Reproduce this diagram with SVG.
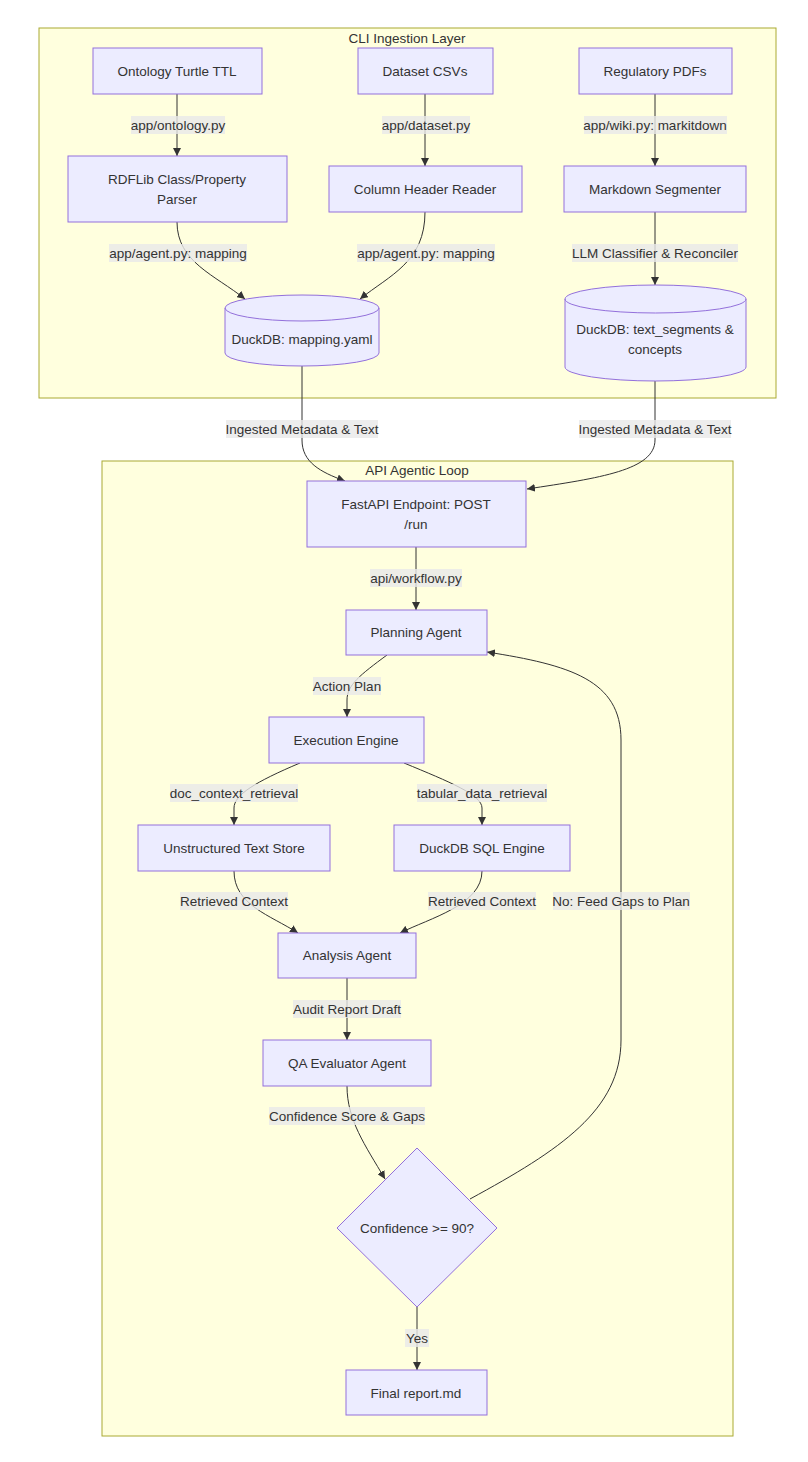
<svg xmlns="http://www.w3.org/2000/svg" width="808" height="1462" viewBox="0 0 808 1462">
<defs>
<style>
.cluster{fill:#ffffde;stroke:#aaaa33;stroke-width:1}
.node{fill:#ECECFF;stroke:#9370DB;stroke-width:1}
.edge{fill:none;stroke:#333;stroke-width:1}
.lbl{fill:#e8e8e8;fill-opacity:0.8}
text{font-family:"Liberation Sans",Arial,sans-serif;font-size:13.5px;fill:#333;text-anchor:middle;dominant-baseline:central}
</style>
<marker id="arrow" viewBox="0 0 10 10" refX="10" refY="5" markerWidth="8" markerHeight="8" markerUnits="userSpaceOnUse" orient="auto">
<path d="M0,0 L10,5 L0,10 z" fill="#333"/>
</marker>
</defs>
<rect width="808" height="1462" fill="#ffffff"/>
<g id="cluster-cli">
<rect class="cluster" x="39" y="28" width="737" height="370"/>
<text x="407" y="38">CLI Ingestion Layer</text>
</g>
<g id="cluster-api">
<rect class="cluster" x="102" y="461" width="631" height="975"/>
<text x="417" y="470">API Agentic Loop</text>
</g>
<g id="connectors">
<path class="edge" marker-end="url(#arrow)" d="M177,94 L177,156"/>
<path class="edge" marker-end="url(#arrow)" d="M425,94 L425,166"/>
<path class="edge" marker-end="url(#arrow)" d="M655,94 L655,166"/>
<path class="edge" marker-end="url(#arrow)" d="M177,222 C177,262 215,275 245,299"/>
<path class="edge" marker-end="url(#arrow)" d="M425,212 C425,262 390,275 360,299"/>
<path class="edge" marker-end="url(#arrow)" d="M655,212 L655,285"/>
<path class="edge" marker-end="url(#arrow)" d="M302,366 L302,440 C302,462 320,472 345,481"/>
<path class="edge" marker-end="url(#arrow)" d="M655,381 L655,440 C655,470 600,478 527,489"/>
<path class="edge" marker-end="url(#arrow)" d="M416,547 L416,610"/>
<path class="edge" marker-end="url(#arrow)" d="M387,655 C360,675 347,685 347,700 L347,717"/>
<path class="edge" marker-end="url(#arrow)" d="M300,763 C255,782 234,795 234,808 L234,825"/>
<path class="edge" marker-end="url(#arrow)" d="M404,763 C450,782 482,795 482,808 L482,825"/>
<path class="edge" marker-end="url(#arrow)" d="M234,871 C234,905 270,915 298,933"/>
<path class="edge" marker-end="url(#arrow)" d="M482,871 C482,905 430,918 400,933"/>
<path class="edge" marker-end="url(#arrow)" d="M347,978 L347,1040"/>
<path class="edge" marker-end="url(#arrow)" d="M347,1086 C347,1120 365,1145 385,1179"/>
<path class="edge" marker-end="url(#arrow)" d="M470,1199 C560,1150 621,1110 621,1040 L621,740 C621,680 570,665 487,652"/>
<path class="edge" marker-end="url(#arrow)" d="M417,1307 L417,1370"/>
<g id="edge-labels">
<rect class="lbl" x="131" y="116" width="94" height="18"/><text x="178" y="125">app/ontology.py</text>
<rect class="lbl" x="382" y="116" width="88" height="18"/><text x="426" y="125">app/dataset.py</text>
<rect class="lbl" x="584" y="116" width="143" height="18"/><text x="655" y="125">app/wiki.py: markitdown</text>
<rect class="lbl" x="109" y="244" width="138" height="18"/><text x="178" y="253">app/agent.py: mapping</text>
<rect class="lbl" x="357" y="244" width="138" height="18"/><text x="426" y="253">app/agent.py: mapping</text>
<rect class="lbl" x="572" y="244" width="166" height="18"/><text x="655" y="253">LLM Classifier &amp; Reconciler</text>
<rect class="lbl" x="226" y="420" width="152" height="18"/><text x="302" y="429">Ingested Metadata &amp; Text</text>
<rect class="lbl" x="579" y="420" width="152" height="18"/><text x="655" y="429">Ingested Metadata &amp; Text</text>
<rect class="lbl" x="370" y="569" width="92" height="18"/><text x="416" y="578">api/workflow.py</text>
<rect class="lbl" x="313" y="677" width="68" height="18"/><text x="347" y="686">Action Plan</text>
<rect class="lbl" x="170" y="784" width="128" height="18"/><text x="234" y="793">doc_context_retrieval</text>
<rect class="lbl" x="417" y="784" width="130" height="18"/><text x="482" y="793">tabular_data_retrieval</text>
<rect class="lbl" x="180" y="892" width="108" height="18"/><text x="234" y="901">Retrieved Context</text>
<rect class="lbl" x="428" y="892" width="108" height="18"/><text x="482" y="901">Retrieved Context</text>
<rect class="lbl" x="553" y="892" width="137" height="18"/><text x="621" y="901">No: Feed Gaps to Plan</text>
<rect class="lbl" x="293" y="1000" width="108" height="18"/><text x="347" y="1009">Audit Report Draft</text>
<rect class="lbl" x="269" y="1107" width="156" height="18"/><text x="347" y="1116">Confidence Score &amp; Gaps</text>
<rect class="lbl" x="405" y="1329" width="24" height="18"/><text x="417" y="1338">Yes</text>
</g>
</g>
<g id="n-ontology"><rect class="node" x="93" y="48" width="169" height="46"/><text x="177" y="71">Ontology Turtle TTL</text></g>
<g id="n-dataset"><rect class="node" x="358" y="48" width="135" height="46"/><text x="425" y="71">Dataset CSVs</text></g>
<g id="n-regulatory"><rect class="node" x="579" y="48" width="153" height="46"/><text x="655" y="71">Regulatory PDFs</text></g>
<g id="n-rdflib"><rect class="node" x="68" y="156" width="219" height="66"/><text x="177" y="179">RDFLib Class/Property</text><text x="177" y="199">Parser</text></g>
<g id="n-column"><rect class="node" x="329" y="166" width="193" height="46"/><text x="425" y="189">Column Header Reader</text></g>
<g id="n-markdown"><rect class="node" x="564" y="166" width="182" height="46"/><text x="655" y="189">Markdown Segmenter</text></g>
<g id="n-mapping"><path class="node" d="M225,308 a77,13 0 0,0 154,0 a77,13 0 0,0 -154,0 l0,45 a77,13 0 0,0 154,0 l0,-45"/><text x="302" y="339">DuckDB: mapping.yaml</text></g>
<g id="n-segments"><path class="node" d="M565,299 a90.5,14 0 0,0 181,0 a90.5,14 0 0,0 -181,0 l0,68 a90.5,14 0 0,0 181,0 l0,-68"/><text x="655" y="329">DuckDB: text_segments &amp;</text><text x="655" y="349">concepts</text></g>
<g id="n-fastapi"><rect class="node" x="307" y="481" width="219" height="66"/><text x="416" y="504">FastAPI Endpoint: POST</text><text x="416" y="524">/run</text></g>
<g id="n-planning"><rect class="node" x="346" y="610" width="141" height="45"/><text x="416" y="632">Planning Agent</text></g>
<g id="n-execution"><rect class="node" x="269" y="717" width="155" height="46"/><text x="346" y="740">Execution Engine</text></g>
<g id="n-unstructured"><rect class="node" x="138" y="825" width="192" height="46"/><text x="234" y="848">Unstructured Text Store</text></g>
<g id="n-sql"><rect class="node" x="394" y="825" width="176" height="46"/><text x="482" y="848">DuckDB SQL Engine</text></g>
<g id="n-analysis"><rect class="node" x="278" y="933" width="138" height="45"/><text x="347" y="955">Analysis Agent</text></g>
<g id="n-qa"><rect class="node" x="263" y="1040" width="168" height="46"/><text x="347" y="1063">QA Evaluator Agent</text></g>
<g id="n-decision"><polygon class="node" points="417,1148 497,1228 417,1307 337,1228"/><text x="417" y="1228">Confidence &gt;= 90?</text></g>
<g id="n-final"><rect class="node" x="346" y="1370" width="141" height="45"/><text x="416" y="1393">Final report.md</text></g>
</svg>
